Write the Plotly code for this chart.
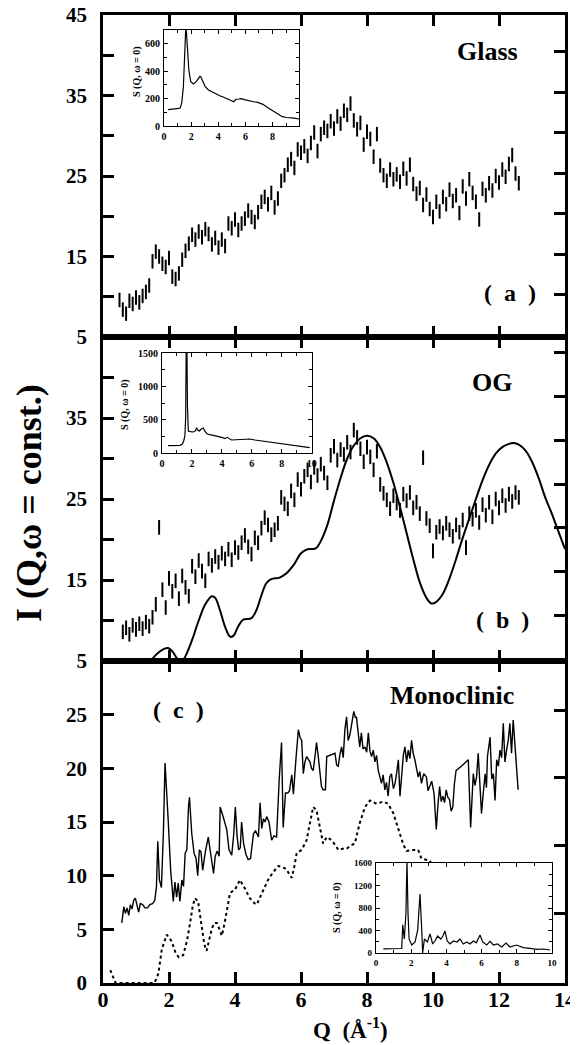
import plotly.graph_objects as go

# ---------------- data ----------------
q_meas = [0.5,0.6,0.7,0.8,0.9,1.0,1.1,1.2,1.3,1.4,
          1.5,1.6,1.7,1.8,1.9,2.0,2.1,2.2,2.3,2.4,
          2.5,2.6,2.7,2.8,2.9,3.0,3.1,3.2,3.3,3.4,
          3.5,3.6,3.7,3.8,3.9,4.0,4.1,4.2,4.3,4.4,
          4.5,4.6,4.7,4.8,4.9,5.0,5.1,5.2,5.3,5.4,
          5.5,5.6,5.7,5.8,5.9,6.0,6.1,6.2,6.3,6.4,
          6.5,6.6,6.7,6.8,6.9,7.0,7.1,7.2,7.3,7.4,
          7.5,7.6,7.7,7.8,7.9,8.0,8.1,8.2,8.3,8.4,
          8.5,8.6,8.7,8.8,8.9,9.0,9.1,9.2,9.3,9.4,
          9.5,9.6,9.7,9.8,9.9,10.0,10.1,10.2,10.3,10.4,
          10.5,10.6,10.7,10.8,10.9,11.0,11.1,11.2,11.3,11.4,
          11.5,11.6,11.7,11.8,11.9,12.0,12.1,12.2,12.3,12.4,
          12.5,12.6]

glass_I = [9.6,8.4,7.9,9.5,9.1,9.9,9.3,10.1,10.6,11.4,
           14.4,15.6,15.0,14.1,13.7,14.8,12.5,12.2,12.9,14.6,
           15.7,16.6,17.7,17.1,18.1,17.4,18.4,17.8,16.5,17.3,
           16.1,17.1,16.3,19.1,18.5,19.6,18.3,19.1,19.7,20.7,
           19.9,19.3,20.5,21.8,22.4,21.5,22.9,21.1,22.2,24.4,
           25.1,26.4,27.1,26.0,28.3,27.9,28.7,27.5,29.1,30.4,
           28.1,30.2,31.0,30.6,31.8,30.9,32.4,31.5,33.1,32.6,
           34.0,31.9,30.8,31.6,28.9,30.5,29.6,27.4,30.2,26.3,
           25.1,24.4,25.8,24.6,25.2,24.3,25.9,24.7,26.4,24.0,
           22.8,23.5,21.4,22.7,20.9,19.9,21.8,20.6,22.4,21.5,
           23.3,21.9,22.6,20.4,23.7,22.2,24.6,22.9,21.8,19.6,
           23.4,22.6,24.1,23.2,25.0,24.2,25.8,24.9,26.5,27.6,
           25.3,24.1]

og_I = [None,8.6,9.1,8.3,9.4,8.9,9.6,9.0,9.8,9.3,
        10.4,12.0,21.5,13.8,11.6,15.2,13.6,14.9,12.7,15.5,
        14.1,13.0,16.7,15.4,17.4,16.1,14.9,17.6,16.8,17.9,
        17.2,18.3,17.6,18.8,17.5,19.0,18.4,19.6,20.5,19.1,
        18.2,20.2,19.6,21.4,22.7,21.8,20.6,21.2,22.0,25.2,
        24.4,23.8,26.0,24.9,27.4,26.2,27.8,28.6,27.1,28.9,
        27.9,29.3,28.2,27.0,30.4,31.5,29.8,31.1,30.5,32.0,
        30.8,33.5,32.6,31.2,29.6,31.4,30.2,28.6,30.9,26.8,
        25.7,24.9,23.8,25.4,24.5,23.6,25.6,24.8,25.8,23.9,
        24.6,23.2,30.1,22.6,21.7,18.6,20.9,21.6,20.8,22.0,
        21.2,20.4,21.8,20.9,22.4,19.0,23.2,22.5,23.6,22.1,
        24.3,23.0,24.6,22.8,25.0,23.9,25.4,24.2,25.6,24.7,
        25.8,25.2]

err_half = 0.9

og_calc_q = [1.3,1.5,1.7,1.85,1.97,2.1,2.25,2.38,2.5,2.7,
             2.9,3.1,3.3,3.4,3.55,3.7,3.85,3.95,4.1,4.25,
             4.5,4.65,4.8,4.95,5.1,5.35,5.55,5.8,6.0,6.2,
             6.45,6.6,6.8,7.0,7.2,7.4,7.6,7.8,8.0,8.2,
             8.4,8.6,8.8,9.0,9.2,9.4,9.6,9.8,9.95,10.1,
             10.3,10.5,10.7,10.9,11.1,11.3,11.5,11.7,11.9,12.1,
             12.3,12.45,12.6,12.8,13.0,13.2,13.4,13.6,13.8,14.0]
og_calc_I = [4.2,5.3,6.1,6.5,6.6,6.2,5.3,4.9,5.6,7.6,
             10.0,12.0,13.0,12.8,11.2,9.2,8.0,8.1,9.3,10.1,
             10.3,11.3,13.1,14.6,15.1,15.3,15.8,17.0,18.3,18.8,
             18.9,19.8,21.8,24.8,27.6,30.0,31.6,32.5,32.8,32.5,
             31.4,29.5,27.0,24.0,20.8,17.6,14.7,12.8,12.1,12.3,
             13.3,15.2,17.6,20.2,22.6,25.0,27.3,29.2,30.6,31.4,
             31.8,31.9,31.7,31.0,29.6,27.6,25.2,23.2,21.0,18.8]

mono_q = [0.57,0.63,0.68,0.73,0.78,0.83,0.88,0.93,0.98,1.03,
          1.08,1.13,1.2,1.27,1.35,1.42,1.5,1.57,1.62,1.66,
          1.71,1.77,1.83,1.88,1.93,1.98,2.05,2.13,2.18,2.23,
          2.28,2.33,2.39,2.44,2.49,2.54,2.59,2.62,2.69,2.76,
          2.82,2.87,2.92,2.97,3.02,3.1,3.19,3.25,3.3,3.35,
          3.4,3.46,3.52,3.55,3.65,3.75,3.82,3.9,3.96,4.01,
          4.06,4.11,4.16,4.2,4.26,4.33,4.4,4.47,4.56,4.62,
          4.71,4.76,4.81,4.86,4.91,4.96,5.03,5.11,5.18,5.26,
          5.34,5.41,5.46,5.53,5.6,5.65,5.72,5.77,5.85,5.92,
          5.97,6.02,6.07,6.12,6.17,6.27,6.32,6.37,6.42,6.47,
          6.52,6.57,6.62,6.67,6.74,6.78,7.03,7.08,7.13,7.18,
          7.23,7.28,7.33,7.38,7.43,7.48,7.53,7.6,7.65,7.68,
          7.73,7.78,7.83,7.88,7.94,7.99,8.04,8.09,8.14,8.19,
          8.24,8.29,8.34,8.39,8.44,8.49,8.54,8.59,8.64,8.69,
          8.74,8.8,8.85,8.9,8.95,9.0,9.05,9.1,9.15,9.2,
          9.25,9.3,9.35,9.4,9.45,9.5,9.55,9.6,9.65,9.72,
          9.8,9.85,9.9,9.96,10.03,10.1,10.15,10.2,10.25,10.3,
          10.35,10.4,10.45,10.5,10.55,10.6,10.65,10.7,10.86,11.07,
          11.14,11.22,11.27,11.32,11.37,11.42,11.47,11.52,11.58,11.62,
          11.65,11.73,11.78,11.83,11.88,11.93,11.98,12.03,12.08,12.13,
          12.18,12.23,12.28,12.33,12.38,12.43,12.48,12.53,12.58]
mono_I = [5.6,7.1,6.5,7.0,6.3,7.3,6.9,7.7,7.9,7.2,
          6.6,7.4,7.3,7.0,7.0,7.3,7.4,7.7,9.0,13.2,
          9.6,8.9,14.0,20.5,18.0,14.9,10.5,7.6,9.4,8.0,
          9.3,7.6,9.6,9.0,12.1,12.4,16.4,17.3,13.9,12.1,
          11.6,10.0,12.4,12.2,10.5,12.2,13.6,12.4,11.6,10.2,
          11.8,12.3,11.8,16.4,15.4,14.3,12.4,11.9,13.8,16.4,
          13.8,12.4,12.6,15.0,13.0,12.0,11.5,11.6,13.9,14.2,
          13.6,16.8,14.4,15.3,15.0,15.5,15.0,13.3,13.7,13.6,
          19.0,22.4,14.5,17.7,17.7,17.9,19.4,17.6,21.0,23.6,
          22.9,22.6,19.5,20.6,21.1,20.6,20.0,19.8,21.0,22.4,
          21.2,19.5,18.3,18.0,18.0,21.1,21.4,20.3,20.2,21.3,
          22.0,21.0,23.6,24.8,22.6,23.1,23.9,25.3,24.7,24.8,
          23.4,22.0,23.3,21.8,22.0,21.5,23.3,21.6,21.1,21.7,
          20.6,21.2,19.8,19.1,18.6,19.4,18.0,18.7,17.4,19.2,
          19.5,18.1,18.6,19.6,20.8,17.4,19.8,21.2,22.0,20.6,
          21.7,20.9,22.6,21.4,20.8,19.9,19.2,19.7,18.6,19.5,
          19.2,17.9,18.3,18.8,17.7,14.3,16.6,18.3,16.9,17.4,
          16.8,18.0,17.3,17.1,16.0,16.4,18.6,19.8,20.2,20.8,
          14.5,19.5,18.4,19.2,21.4,18.9,15.8,17.6,19.5,18.2,
          21.1,22.9,19.0,19.5,17.0,20.8,20.2,21.7,21.0,24.2,
          20.6,21.7,22.6,24.2,21.4,24.5,22.0,20.2,18.0]

mono_calc_q = [0.22,0.3,0.38,1.55,1.62,1.68,1.78,1.93,2.08,2.2,
               2.3,2.43,2.55,2.64,2.72,2.79,2.88,2.99,3.07,3.14,
               3.22,3.3,3.38,3.45,3.53,3.6,3.68,3.75,3.85,4.0,
               4.15,4.3,4.45,4.6,4.66,4.76,4.86,5.0,5.15,5.31,
               5.45,5.56,5.65,5.72,5.8,5.87,6.02,6.17,6.27,6.37,
               6.47,6.57,6.67,6.78,6.93,7.05,7.13,7.25,7.38,7.5,
               7.63,7.78,7.94,8.09,8.29,8.49,8.64,8.8,9.0,9.1,
               9.2,9.35,9.55,9.65,9.9,9.95]
mono_calc_I = [1.2,0.6,0.0,0.0,0.4,0.9,3.1,4.5,3.9,2.8,
               2.4,2.6,4.0,5.6,7.2,7.9,7.6,5.3,3.6,3.0,
               4.2,5.1,5.6,5.6,5.0,4.4,5.5,6.7,8.4,8.7,
               9.6,8.8,7.9,7.4,7.3,8.0,8.7,9.6,10.3,10.9,
               10.8,10.6,10.1,9.8,10.9,12.1,12.4,13.3,14.9,16.4,
               16.1,14.6,13.0,13.6,13.3,12.8,12.4,12.5,12.5,12.8,
               13.0,14.9,16.4,17.0,16.7,16.9,16.7,15.8,13.9,12.9,
               12.3,12.4,12.4,11.6,11.4,11.1]

# inset S(Q, w=0) curves
sq_glass_q = [0.3,0.6,0.9,1.1,1.2,1.31,1.43,1.5,1.56,1.6,
              1.65,1.72,1.83,1.97,2.17,2.37,2.54,2.65,2.72,2.86,
              3.04,3.28,3.65,3.9,4.15,4.4,4.64,4.9,5.14,5.3,
              5.51,5.7,6.0,6.3,6.62,6.9,7.11,7.3,7.6,7.8,
              8.1,8.4,8.72,9.0,9.33,9.6,9.95]
sq_glass_s = [120,122,125,128,132,170,287,500,640,705,
              690,578,408,323,306,323,348,362,358,323,
              287,263,243,232,219,210,197,188,177,195,
              197,200,190,186,177,172,165,158,136,125,
              104,88,68,62,61,58,51]

sq_og_q = [0.4,0.8,1.2,1.35,1.45,1.53,1.58,1.62,1.66,1.7,
           1.76,1.9,2.1,2.25,2.31,2.4,2.5,2.6,2.76,2.85,
           3.02,3.2,3.42,3.7,4.0,4.2,4.35,4.64,5.0,5.42,
           5.87,6.2,6.53,7.2,7.87,8.53,9.2,9.87]
sq_og_s = [110,110,115,130,180,260,520,1700,1700,700,
           330,320,315,335,380,340,330,355,375,330,
           285,275,265,245,235,215,235,195,200,215,
           210,195,185,165,140,115,95,80]

sq_mono_q = [0.42,0.8,1.2,1.46,1.52,1.61,1.7,1.76,1.82,1.88,
             2.03,2.22,2.37,2.5,2.6,2.65,2.75,2.92,3.07,3.22,
             3.35,3.5,3.68,3.8,3.92,4.05,4.2,4.4,4.6,4.77,
             4.96,5.15,5.34,5.53,5.7,5.91,6.06,6.29,6.48,6.67,
             6.9,7.14,7.39,7.61,7.99,8.37,8.75,9.13,9.51,9.89]
sq_mono_s = [75,75,75,80,500,250,700,1650,700,250,
             142,196,409,1050,409,0,249,196,338,160,
             213,302,249,302,391,213,160,213,196,249,
             160,196,160,213,180,320,196,142,207,142,
             160,107,178,107,142,95,83,65,71,53]

x_ticks = [0, 2, 4, 6, 8, 10, 12, 14]
ya_ticks = [5, 10, 15, 20, 25, 30, 35, 40, 45]
ya_text = ["5", " ", "15", " ", "25", " ", "35", " ", "45"]
yb_text = ["5", " ", "15", " ", "25", " ", "35", " ", " "]
yc_ticks = [0, 5, 10, 15, 20, 25, 30]
yc_text = ["0", "5", "10", "15", "20", "25", " "]

# ---------------- geometry helpers ----------------
# The page body adds an 8px margin, so the figure is drawn 8px smaller and
# every target position (measured on the 578x1045 page) is shifted by it.
OFF = 8
W, H = 578 - OFF, 1045 - OFF
L, R, T, B = 103, 565, 15, 983          # plot area in page pixels
PW, PH = R - L, B - T


def px(x):
    return (x - L) / PW


def py(y):
    return (B - y) / PH


FONT = "Liberation Serif"
BLACK = "black"

fig = go.Figure()


def err_trace(y, xa, ya):
    return go.Scatter(x=q_meas, y=y, mode="markers",
                      marker=dict(size=1, color=BLACK),
                      error_y=dict(type="constant", value=err_half, width=0,
                                   thickness=2, color=BLACK),
                      xaxis=xa, yaxis=ya, showlegend=False, hoverinfo="skip")


fig.add_trace(err_trace(glass_I, "x", "y"))
fig.add_trace(err_trace(og_I, "x2", "y2"))
fig.add_trace(go.Scatter(x=og_calc_q, y=og_calc_I, mode="lines",
                         line=dict(color=BLACK, width=2, shape="spline"),
                         xaxis="x2", yaxis="y2", showlegend=False))
fig.add_trace(go.Scatter(x=mono_q, y=mono_I, mode="lines",
                         line=dict(color=BLACK, width=1.4),
                         xaxis="x3", yaxis="y3", showlegend=False))
fig.add_trace(go.Scatter(x=mono_calc_q, y=mono_calc_I, mode="lines",
                         line=dict(color=BLACK, width=2, dash="3px,3px"),
                         xaxis="x3", yaxis="y3", showlegend=False))
for q, s, xa, ya in [(sq_glass_q, sq_glass_s, "x4", "y4"),
                     (sq_og_q, sq_og_s, "x5", "y5"),
                     (sq_mono_q, sq_mono_s, "x6", "y6")]:
    fig.add_trace(go.Scatter(x=q, y=s, mode="lines",
                             line=dict(color=BLACK, width=1.2),
                             xaxis=xa, yaxis=ya, showlegend=False))
# dummy traces so the right-hand tick axes are drawn
for xa, ya in [("x", "y7"), ("x2", "y8"), ("x3", "y9")]:
    fig.add_trace(go.Scatter(x=[None], y=[None], xaxis=xa, yaxis=ya,
                             showlegend=False, hoverinfo="skip"))

dom_a = [py(337), 1.0]
dom_b = [py(661), py(337)]
dom_c = [0.0, py(661)]

main_font = dict(family=FONT, size=21, color=BLACK, weight="bold")


def main_x(anchor, labels):
    return dict(domain=[0, 1], anchor=anchor, range=[0, 14], automargin=False,
                tickmode="array", tickvals=x_ticks,
                ticks="inside", ticklen=11, tickwidth=2.5, tickcolor=BLACK,
                showline=True, linewidth=2.5, linecolor=BLACK, mirror="ticks",
                showgrid=False, zeroline=False, showticklabels=labels,
                tickfont=dict(family=FONT, size=22, color=BLACK, weight="bold"),
                ticklabelstandoff=-5, ticklabeloverflow="allow")


def main_y(anchor, dom, rng, vals, text):
    return dict(domain=dom, anchor=anchor, range=rng, automargin=False,
                tickmode="array", tickvals=vals, ticktext=text,
                ticks="inside", ticklen=11, tickwidth=2.5, tickcolor=BLACK,
                showline=True, linewidth=2.5, linecolor=BLACK, mirror=True,
                showgrid=False, zeroline=False, tickfont=main_font,
                ticklabelstandoff=9, ticklabeloverflow="allow")


def right_y(over, anchor, rng, vals):
    return dict(overlaying=over, anchor=anchor, side="right", range=rng,
                automargin=False,
                tickmode="array", tickvals=vals, ticks="inside", ticklen=11,
                tickwidth=2.5, tickcolor=BLACK, showticklabels=False,
                showline=False, showgrid=False, zeroline=False)


def inset_x(anchor, dom, rng, vals, size):
    return dict(domain=dom, anchor=anchor, range=rng, automargin=False,
                tickmode="array", tickvals=vals,
                ticks="inside", ticklen=4, tickwidth=1, tickcolor=BLACK,
                minor=dict(ticks="inside", ticklen=3, tickwidth=1,
                           tickmode="linear", tick0=0, dtick=1, tickcolor=BLACK),
                showline=True, linewidth=1.2, linecolor=BLACK, mirror="allticks",
                showgrid=False, zeroline=False,
                tickfont=dict(family=FONT, size=size, color=BLACK, weight="bold"),
                ticklabelstandoff=1, ticklabeloverflow="allow")


def inset_y(anchor, dom, rng, vals, minor_dt, size):
    return dict(domain=dom, anchor=anchor, range=rng, automargin=False,
                tickmode="array", tickvals=vals,
                ticks="inside", ticklen=4, tickwidth=1, tickcolor=BLACK,
                minor=dict(ticks="inside", ticklen=3, tickwidth=1,
                           tickmode="linear", tick0=0, dtick=minor_dt,
                           tickcolor=BLACK),
                showline=True, linewidth=1.2, linecolor=BLACK, mirror="allticks",
                showgrid=False, zeroline=False,
                tickfont=dict(family=FONT, size=size, color=BLACK, weight="bold"),
                ticklabelstandoff=1, ticklabeloverflow="allow")


fig.update_layout(
    width=W, height=H,
    margin=dict(l=L - OFF, r=578 - R, t=T - OFF, b=1045 - B, pad=0,
                autoexpand=False),
    paper_bgcolor="white", plot_bgcolor="white",
    font=dict(family=FONT, color=BLACK),
    showlegend=False,
    xaxis=main_x("y", False),
    xaxis2=main_x("y2", False),
    xaxis3=main_x("y3", True),
    yaxis=main_y("x", dom_a, [5, 45], ya_ticks, ya_text),
    yaxis2=main_y("x2", dom_b, [5, 45], ya_ticks, yb_text),
    yaxis3=main_y("x3", dom_c, [0, 30], yc_ticks, yc_text),
    yaxis7=right_y("y", "x", [-0.036, 7.905], [1, 2, 3, 4, 5, 6, 7]),
    yaxis8=right_y("y2", "x2", [-0.053, 7.366], [1, 2, 3, 4, 5, 6, 7]),
    yaxis9=right_y("y3", "x3", [-0.034, 4.724], [1, 2, 3, 4]),
    xaxis4=inset_x("y4", [px(164), px(299)], [0, 9.95], [0, 2, 4, 6, 8], 10),
    yaxis4=inset_y("x4", [py(126), py(30)], [0, 700], [0, 200, 400, 600], 100, 10),
    xaxis5=inset_x("y5", [px(162), px(312)], [0, 10.02], [0, 2, 4, 6, 8, 10], 10),
    yaxis5=inset_y("x5", [py(453), py(353)], [0, 1500], [0, 500, 1000, 1500], 250, 10),
    xaxis6=inset_x("y6", [px(376), px(552)], [0, 10], [0, 2, 4, 6, 8, 10], 9),
    yaxis6=inset_y("x6", [py(953), py(863)], [0, 1600], [0, 400, 800, 1200, 1600], 200, 9),
)


def ann(text, x, y, size, angle=0):
    fig.add_annotation(text=text, x=px(x), y=py(y), xref="paper", yref="paper",
                       showarrow=False, xanchor="center", yanchor="middle",
                       textangle=angle,
                       font=dict(family=FONT, size=size, color=BLACK, weight="bold"))


ann("Glass", 487, 52, 26)
ann("(  a  )", 510, 293, 24)
ann("OG", 492, 382, 26)
ann("(  b  )", 502, 620, 24)
ann("(  c  )", 178, 710, 24)
ann("Monoclinic", 452, 695, 26)
ann("I (Q,\u03c9 = const.)", 29, 503, 36, -90)
ann("Q  (\u00c5<sup>-1</sup>)", 350, 1029, 23)
ann("S (Q, \u03c9 = 0)", 137, 72, 10, -90)
ann("S (Q, \u03c9 = 0)", 125, 405, 10, -90)
ann("S (Q, \u03c9 = 0)", 337, 908, 10, -90)

fig.write_html("out.html")
